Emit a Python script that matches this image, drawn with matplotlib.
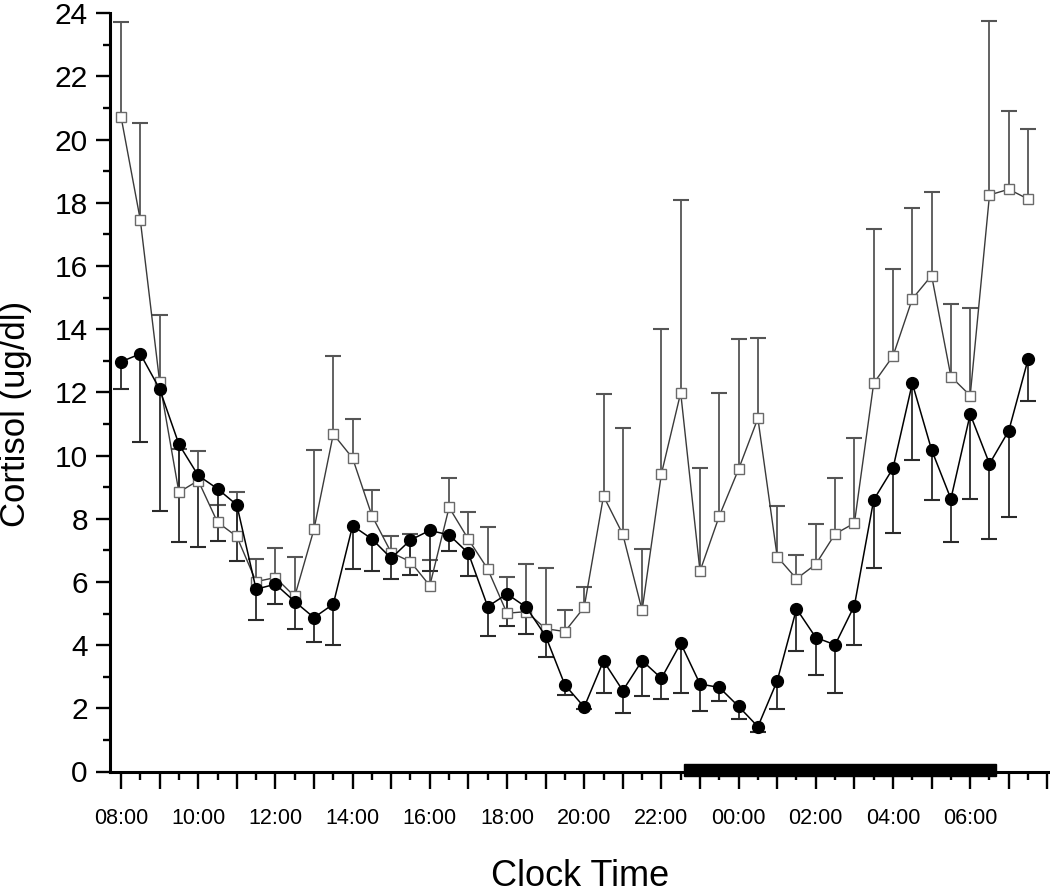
import matplotlib
matplotlib.use("Agg")
import matplotlib.pyplot as plt
import numpy as np
from matplotlib.patches import Rectangle
from matplotlib.ticker import FixedLocator, MultipleLocator

plt.rcParams['font.family'] = ['Liberation Sans', 'DejaVu Sans']

# ---------------- data ----------------
clock_times = ["08:00", "08:30", "09:00", "09:30", "10:00", "10:30", "11:00", "11:30",
               "12:00", "12:30", "13:00", "13:30", "14:00", "14:30", "15:00", "15:30",
               "16:00", "16:30", "17:00", "17:30", "18:00", "18:30", "19:00", "19:30",
               "20:00", "20:30", "21:00", "21:30", "22:00", "22:30", "23:00", "23:30",
               "00:00", "00:30", "01:00", "01:30", "02:00", "02:30", "03:00", "03:30",
               "04:00", "04:30", "05:00", "05:30", "06:00", "06:30", "07:00", "07:30"]

# open squares (upper error bars)
open_mean = [20.73, 17.46, 12.34, 8.84, 9.21, 7.89, 7.44, 6.01, 6.14, 5.54, 7.67, 10.68,
             9.92, 8.10, 6.93, 6.64, 5.88, 8.36, 7.35, 6.41, 5.01, 5.06, 4.52, 4.43,
             5.20, 8.72, 7.51, 5.10, 9.42, 11.99, 6.34, 8.09, 9.57, 11.18, 6.80, 6.10,
             6.56, 7.52, 7.86, 12.29, 13.15, 14.96, 15.70, 12.50, 11.90, 18.25, 18.43, 18.12]
open_sem = [3.00, 3.07, 2.11, 1.37, 0.94, 0.55, 1.40, 0.72, 0.95, 1.25, 2.51, 2.47,
            1.24, 0.81, 0.51, 0.87, 0.82, 0.94, 0.88, 1.34, 1.16, 1.50, 1.92, 0.69,
            0.65, 3.23, 3.36, 1.94, 4.58, 6.10, 3.26, 3.88, 4.13, 2.55, 1.61, 0.76,
            1.28, 1.78, 2.71, 4.89, 2.77, 2.88, 2.64, 2.29, 2.78, 5.51, 2.48, 2.22]

# filled circles (lower error bars)
filled_mean = [12.97, 13.22, 12.11, 10.36, 9.37, 8.95, 8.44, 5.77, 5.93, 5.38, 4.87, 5.30,
               7.78, 7.36, 6.75, 7.33, 7.63, 7.49, 6.91, 5.22, 5.62, 5.20, 4.29, 2.74,
               2.04, 3.50, 2.56, 3.51, 2.95, 4.06, 2.77, 2.66, 2.06, 1.42, 2.87, 5.15,
               4.24, 4.01, 5.25, 8.60, 9.60, 12.29, 10.18, 8.63, 11.31, 9.74, 10.79, 13.05]
filled_sem = [0.86, 2.78, 3.86, 3.10, 2.25, 1.65, 1.77, 0.97, 0.63, 0.88, 0.78, 1.28,
              1.38, 1.00, 0.65, 1.11, 1.28, 0.51, 0.71, 0.92, 1.03, 0.85, 0.65, 0.31,
              0.06, 1.03, 0.72, 1.11, 0.66, 1.58, 0.85, 0.44, 0.40, 0.17, 0.90, 1.33,
              1.20, 1.53, 1.24, 2.16, 2.06, 2.43, 1.60, 1.37, 2.69, 2.39, 2.72, 1.32]

tick_labels = ["08:00", "10:00", "12:00", "14:00", "16:00", "18:00",
               "20:00", "22:00", "00:00", "02:00", "04:00", "06:00"]

dark_period = ("22:35", "06:40")   # black bar on the time axis


def to_hours(s, start=8):
    hh, mm = s.split(":")
    return (int(hh) + int(mm) / 60.0 - start) % 24


x = np.array([to_hours(t) for t in clock_times])
om = np.array(open_mean); osd = np.array(open_sem)
fm = np.array(filled_mean); fsd = np.array(filled_sem)

# ---------------- figure ----------------
fig = plt.figure(figsize=(10.5, 8.92), dpi=100)
W, H = 1050, 892
ax_left, ax_right, ax_top, ax_bot = 110, 1050, 13.3, 771.5
ax = fig.add_axes([ax_left / W, (H - ax_bot) / H, (ax_right - ax_left) / W, (ax_bot - ax_top) / H])

x_left = -11 / 38.6
x_right = (ax_right - 121) / 38.6
ax.set_xlim(x_left, x_right)
ax.set_ylim(0, 24)

# open squares series
ax.vlines(x, om, om + osd, colors='#555555', linewidth=1.3, zorder=1)
ax.plot(x, om + osd, linestyle='none', marker='_', markersize=11, markeredgewidth=1.5,
        color='#555555', zorder=1)
ax.plot(x, om, '-', color='#3a3a3a', linewidth=1.0, marker='s', markersize=7,
        markerfacecolor='white', markeredgecolor='#6a6a6a', markeredgewidth=1.0, zorder=3)

# filled circles series
ax.vlines(x, fm - fsd, fm, colors='#2a2a2a', linewidth=1.3, zorder=2)
ax.plot(x, fm - fsd, linestyle='none', marker='_', markersize=11, markeredgewidth=1.5,
        color='#2a2a2a', zorder=2)
ax.plot(x, fm, '-', color='black', linewidth=1.1, marker='o', markersize=8.5,
        markerfacecolor='black', markeredgecolor='black', zorder=4)

# dark period bar on the axis
b0, b1 = to_hours(dark_period[0]), to_hours(dark_period[1])
ax.add_patch(Rectangle((b0, -0.15), b1 - b0, 0.40, facecolor='black', edgecolor='black',
                       clip_on=False, zorder=6))

# spines
for s in ['top', 'right']:
    ax.spines[s].set_visible(False)
for s in ['left', 'bottom']:
    ax.spines[s].set_linewidth(2.2)
    ax.spines[s].set_color('black')

# x ticks
major_x = np.arange(0, 25, 1.0)
ax.xaxis.set_major_locator(FixedLocator(major_x))
lab_map = {to_hours(t): t for t in tick_labels}
ax.set_xticklabels([lab_map.get(v, "") for v in major_x])
ax.xaxis.set_minor_locator(MultipleLocator(0.5))
ax.tick_params(axis='x', which='major', direction='out', length=12, width=1.7,
               labelsize=15.5, pad=14)
ax.tick_params(axis='x', which='minor', direction='out', length=6, width=1.7)

# y ticks
ax.yaxis.set_major_locator(MultipleLocator(2))
ax.yaxis.set_minor_locator(MultipleLocator(1))
ax.tick_params(axis='y', which='major', direction='out', length=10, width=1.7,
               labelsize=21.5, pad=6)
ax.tick_params(axis='y', which='minor', direction='out', length=5, width=1.7)

fig.text(580 / W, 1 - 876 / H, "Clock Time", ha='center', va='center', fontsize=26)
fig.text(16 / W, 1 - 414 / H, "Cortisol (ug/dl)", ha='center', va='center',
         rotation=90, fontsize=25)

fig.savefig("out.png", dpi=100)
